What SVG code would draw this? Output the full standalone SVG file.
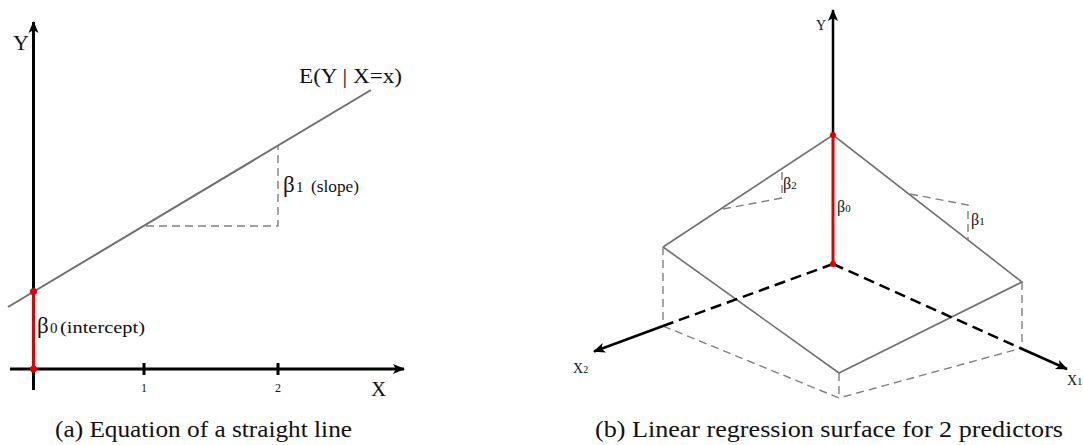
<svg xmlns="http://www.w3.org/2000/svg" width="1083" height="445" viewBox="0 0 1083 445">
<style>
text{font-family:"Liberation Serif","DejaVu Serif",serif;fill:#111}
.axis{stroke:#000;stroke-width:3;fill:none}
.axis2{stroke:#000;stroke-width:2.5;fill:none}
.axisdash{stroke:#000;stroke-width:2.5;fill:none;stroke-dasharray:11 6}
.reg{stroke:#707070;stroke-width:2;fill:none}
.surf{stroke:#707070;stroke-width:1.6;fill:none}
.gdash{stroke:#808080;stroke-width:1.4;fill:none;stroke-dasharray:8 5}
.red{stroke:#e00000;stroke-width:3;fill:none}
.cap{font-size:24px}
</style>
<defs>
<marker id="ah" markerUnits="userSpaceOnUse" markerWidth="14" markerHeight="14" viewBox="0 0 14 14" refX="12" refY="7" orient="auto">
<path d="M1,2 L13,7 L1,12 L4,7 Z" fill="#000"/>
</marker>
</defs>

<g id="connectors">
<!-- Left panel -->
<line class="axis" x1="33.5" y1="390" x2="33.5" y2="22" marker-end="url(#ah)"/>
<line class="axis" x1="10" y1="369" x2="404" y2="369" marker-end="url(#ah)"/>
<line class="axis" x1="144" y1="363" x2="144" y2="375" stroke-width="2.5"/>
<line class="axis" x1="278" y1="363" x2="278" y2="375" stroke-width="2.5"/>
<line class="reg" x1="8" y1="307" x2="371" y2="90"/>
<polyline class="gdash" points="146,226 278,226 278,146"/>
<line class="red" x1="33.5" y1="291.5" x2="33.5" y2="369"/>
<circle cx="33.5" cy="291.5" r="3.5" fill="#e00000"/>
<circle cx="33.5" cy="369" r="3.5" fill="#e00000"/>

<!-- Right panel -->
<line class="axis2" x1="833" y1="135" x2="833" y2="10" marker-end="url(#ah)"/>
<line class="red" x1="833" y1="135" x2="833" y2="264"/>
<polyline class="surf" points="663,247 833,135 1022,282 839,373 663,247"/>
<line class="gdash" x1="663" y1="247" x2="663" y2="326"/>
<line class="gdash" x1="1022" y1="282" x2="1022" y2="348"/>
<line class="gdash" x1="839" y1="373" x2="839" y2="398"/>
<polyline class="gdash" points="663,326 839,398 1022,348"/>
<line class="axisdash" x1="833" y1="264" x2="663" y2="326"/>
<line class="axis2" x1="663" y1="326" x2="594" y2="351.5" marker-end="url(#ah)"/>
<line class="axisdash" x1="833" y1="264" x2="1020" y2="348"/>
<line class="axis2" x1="1020" y1="348" x2="1067" y2="369" marker-end="url(#ah)"/>
<polyline class="gdash" points="723,209 782,198 782,169"/>
<polyline class="gdash" points="910,194 968,205 968,240"/>
<circle cx="833" cy="135" r="3" fill="#e00000"/>
<circle cx="833" cy="264" r="3" fill="#e00000"/>
</g>

<g id="labels-left">
<text x="13" y="50" font-size="22">Y</text>
<text x="371" y="396" font-size="21">X</text>
<text x="144" y="392" font-size="12" text-anchor="middle">1</text>
<text x="278" y="392" font-size="12" text-anchor="middle">2</text>
<text x="299" y="83" font-size="21" textLength="103" lengthAdjust="spacingAndGlyphs">E(Y | X=x)</text>
<text x="283" y="192" font-size="23">β</text>
<text x="296" y="192" font-size="15">1</text>
<text x="311" y="192" font-size="17" textLength="48" lengthAdjust="spacingAndGlyphs">(slope)</text>
<text x="37" y="333" font-size="23">β</text>
<text x="50" y="333" font-size="15">0</text>
<text x="60" y="333" font-size="17" textLength="85" lengthAdjust="spacingAndGlyphs">(intercept)</text>
<text x="55" y="437" class="cap" textLength="297" lengthAdjust="spacingAndGlyphs">(a) Equation of a straight line</text>
</g>

<g id="labels-right">
<text x="816" y="30" font-size="14">Y</text>
<text x="573" y="373" font-size="14">X<tspan font-size="10">2</tspan></text>
<text x="1067" y="385" font-size="14">X<tspan font-size="10">1</tspan></text>
<text x="837" y="212" font-size="16">β<tspan font-size="11">0</tspan></text>
<text x="783" y="189" font-size="16">β<tspan font-size="11">2</tspan></text>
<text x="971" y="225" font-size="16">β<tspan font-size="11">1</tspan></text>
<text x="595" y="437" class="cap" textLength="468" lengthAdjust="spacingAndGlyphs">(b) Linear regression surface for 2 predictors</text>
</g>
</svg>
